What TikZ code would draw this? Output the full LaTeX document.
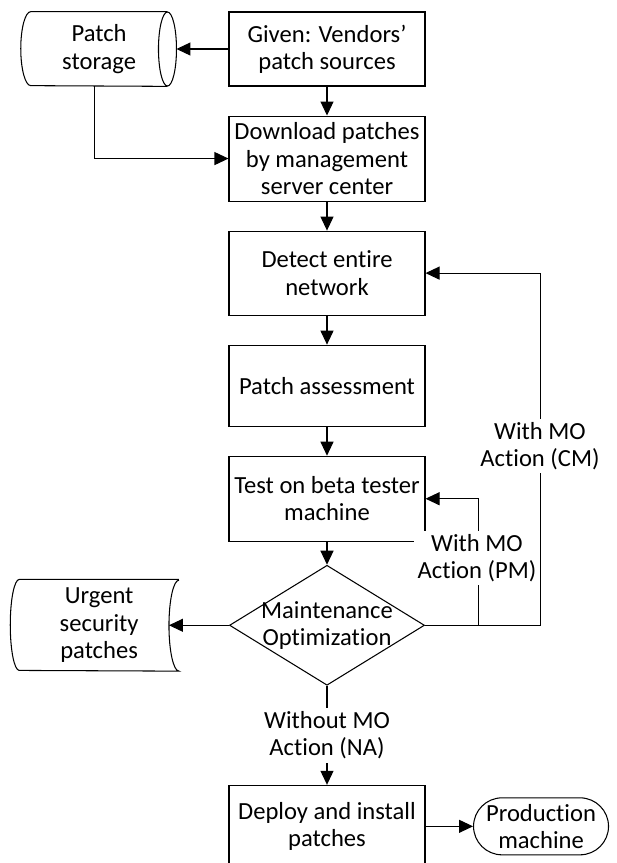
\documentclass[tikz,border=0pt]{standalone}
\usepackage{fontspec}
\setmainfont{Carlito}[Ligatures=NoCommon]
\usetikzlibrary{arrows.meta,positioning,shapes.geometric,shapes.misc}

\begin{document}
\begin{tikzpicture}[node distance=0.58cm, font=\fontsize{14}{15.5}\selectfont,
    box/.style={rectangle,draw,line width=0.6pt,minimum width=3.92cm,minimum height=1.68cm,align=center,inner sep=2pt},
    decide/.style={diamond,draw,line width=0.6pt,minimum width=3.9cm,minimum height=2.4cm,aspect=1.625,inner sep=-6pt,align=center},
    plain/.style={align=center,inner sep=1pt},
    tag/.style={align=center,fill=white,inner sep=2pt},
    arrow/.style={-{Triangle[length=2.8mm,width=2.6mm]},line width=0.6pt},
    line/.style={line width=0.6pt}]
  \useasboundingbox (0,0) rectangle (12.32,-17.26);
  \node[box,minimum height=1.48cm] (given) at (6.54,-0.98) {Given: Vendors'\\patch sources};
  \node[box,minimum height=1.7cm,below=of given] (down) {Download patches\\by management\\server center};
  \node[box,below=of down] (detect) {Detect entire\\network};
  \node[box,minimum height=1.62cm,below=of detect] (assess) {Patch assessment};
  \node[box,minimum height=1.7cm,below=of assess] (test) {Test on beta tester\\machine};
  \node[decide,below=0.46cm of test] (mo) {Maintenance\\Optimization};
  \node[box,minimum height=1.64cm,below=1.98cm of mo] (deploy) {Deploy and install\\patches};

  \node[plain,minimum width=2.72cm,minimum height=1.48cm,left=1.22cm of given] (store) {Patch\\storage};
  \draw[line] (store.north east) -- (store.north west)
    arc[start angle=90,end angle=270,x radius=0.2cm,y radius=0.74cm] -- (store.south east);
  \draw[line] (store.east) ellipse [x radius=0.18cm,y radius=0.74cm];
  \coordinate (storein) at ([xshift=0.18cm]store.east);

  \node[plain,minimum width=3.18cm,minimum height=1.82cm,left=1.0cm of mo] (urgent) {Urgent\\security\\patches};
  \draw[line] (urgent.north east) -- (urgent.north west)
    arc[start angle=90,end angle=270,x radius=0.18cm,y radius=0.91cm] -- (urgent.south east)
    arc[start angle=270,end angle=90,x radius=0.2cm,y radius=0.91cm];
  \coordinate (urgentin) at ([xshift=-0.2cm]urgent.east);

  \node[rounded rectangle,draw,line width=0.6pt,minimum width=2.84cm,minimum height=1.14cm,align=center,
    inner xsep=2pt,inner ysep=0pt,right=0.95cm of deploy] (prod) {Production\\machine};

  \draw[arrow] (given) -- (down);
  \draw[arrow] (down) -- (detect);
  \draw[arrow] (detect) -- (assess);
  \draw[arrow] (assess) -- (test);
  \draw[arrow] (test) -- (mo);
  \draw[arrow] (given.west) -- (storein);
  \draw[arrow] ([xshift=-0.1cm]store.south) |- (down.west);
  \draw[arrow] (mo.west) -- (urgentin);
  \draw[arrow] (deploy) -- (prod);
  \draw[arrow] (mo.south) -- node[tag]{Without MO\\Action (NA)} (deploy.north);

  \coordinate (cmtop) at ([xshift=2.3cm]detect.east);
  \coordinate (pmtop) at ([xshift=1.06cm]test.east);
  \draw[arrow] (mo.east) -| (cmtop) -- (detect.east);
  \draw[arrow] (mo.east) -| (pmtop) -- (test.east);
  \node[tag] (cm) at (10.8,-8.92) {With MO\\Action (CM)};
  \node[tag] (pm) at (9.54,-11.16) {With MO\\Action (PM)};
\end{tikzpicture}
\end{document}
